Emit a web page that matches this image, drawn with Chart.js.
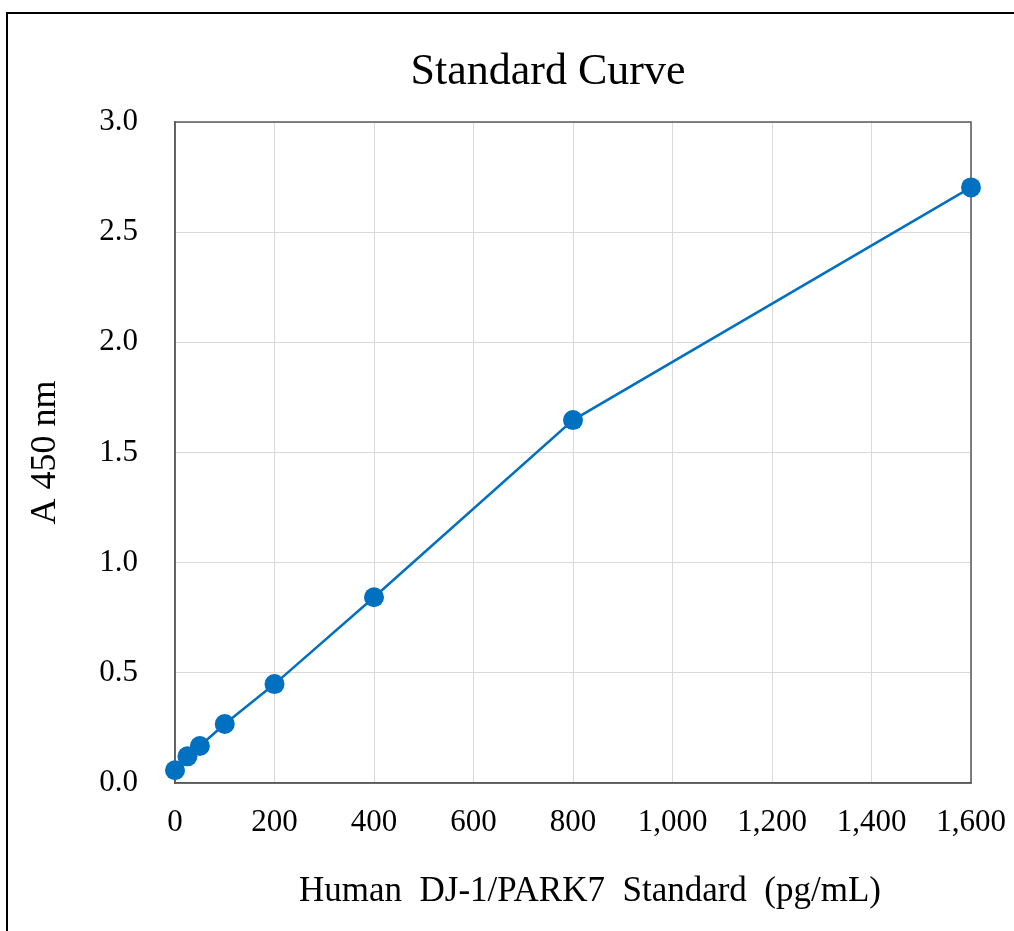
<!DOCTYPE html>
<html lang="en">
<head>
<meta charset="utf-8">
<title>Standard Curve</title>
<script src="https://cdn.jsdelivr.net/npm/chart.js@4.4.1/dist/chart.umd.min.js"></script>
<style>
  html, body { margin: 0; padding: 0; background: #ffffff; }
  #wrap { position: relative; width: 1014px; height: 931px; overflow: hidden; }
  #frame {
    position: absolute; left: 6px; top: 12px; width: 2000px; height: 2000px;
    border-left: 2px solid #000; border-top: 2px solid #000; pointer-events: none;
  }
  canvas { position: absolute; left: 0; top: 0; }
</style>
</head>
<body>
<div id="wrap">
  <canvas id="curveChart" width="1014" height="931"></canvas>
  <div id="frame"></div>
</div>
<script>
// Standard concentrations (pg/mL) and measured absorbance
const concentrations = [0, 25, 50, 100, 200, 400, 800, 1600];
const absorbance = [0.058, 0.121, 0.168, 0.268, 0.449, 0.843, 1.647, 2.703];
const xTicks = [0, 200, 400, 600, 800, 1000, 1200, 1400, 1600];
const yTicks = [0.0, 0.5, 1.0, 1.5, 2.0, 2.5, 3.0];

const chartTitle = "Standard Curve";
const xTitle = "Human  DJ-1/PARK7  Standard  (pg/mL)";
const yTitle = "A 450 nm";

const serif = "'Liberation Serif', 'Times New Roman', serif";

// Box round the plot area, then chart title and x-axis title
const textPlugin = {
  id: "fixedTitles",
  beforeDatasetsDraw(chart) {
    const { ctx, chartArea: a } = chart;
    ctx.save();
    ctx.strokeStyle = "#595959";
    ctx.lineWidth = 1.5;
    ctx.strokeRect(a.left, a.top, a.right - a.left, a.bottom - a.top);
    ctx.restore();
  },
  afterDraw(chart) {
    const { ctx } = chart;
    ctx.save();
    ctx.fillStyle = "#000";
    ctx.textAlign = "center";
    ctx.textBaseline = "middle";
    ctx.font = "44px " + serif;
    ctx.fillText(chartTitle, 548, 72);
    ctx.font = "35px " + serif;
    ctx.fillText(xTitle, 590, 892);
    ctx.restore();
  },
};

new Chart(document.getElementById("curveChart"), {
  type: "line",
  data: {
    datasets: [
      {
        data: concentrations.map((x, i) => ({ x, y: absorbance[i] })),
        borderColor: "#0070C0",
        backgroundColor: "#0070C0",
        borderWidth: 2.5,
        pointRadius: 10,
        pointHoverRadius: 10,
        pointBorderWidth: 0,
        pointBackgroundColor: "#0070C0",
        tension: 0,
        fill: false,
        clip: false,
      },
    ],
  },
  options: {
    responsive: false,
    animation: false,
    devicePixelRatio: 1,
    layout: { padding: { top: 122, right: 43, left: 0, bottom: 0 } },
    plugins: {
      legend: { display: false },
      title: { display: false },
      tooltip: { enabled: false },
    },
    scales: {
      x: {
        type: "linear",
        min: 0,
        max: 1600,
        afterFit: (s) => {
          s.height = 148;
          s.paddingLeft = 0;
          s.paddingRight = 0;
        },
        afterBuildTicks: (s) => { s.ticks = xTicks.map((v) => ({ value: v })); },
        grid: { color: "#d9d9d9", drawTicks: false },
        border: { color: "#595959", width: 1.5 },
        ticks: {
          color: "#000",
          padding: 21,
          maxRotation: 0,
          font: { family: serif, size: 31 },
          callback: (v) => v.toLocaleString("en-US"),
        },
      },
      y: {
        min: 0,
        max: 3,
        afterFit: (s) => {
          s.width = 175;
          s.paddingTop = 0;
          s.paddingBottom = 0;
        },
        afterBuildTicks: (s) => { s.ticks = yTicks.map((v) => ({ value: v })); },
        grid: { color: "#d9d9d9", drawTicks: false },
        border: { color: "#595959", width: 1.5 },
        ticks: {
          color: "#000",
          padding: 37,
          font: { family: serif, size: 31 },
          callback: (v) => Number(v).toFixed(1),
        },
        title: {
          display: true,
          text: yTitle,
          color: "#000",
          padding: { top: 24, bottom: 0 },
          font: { family: serif, size: 36, weight: "normal" },
        },
      },
    },
  },
  plugins: [textPlugin],
});
</script>
</body>
</html>
